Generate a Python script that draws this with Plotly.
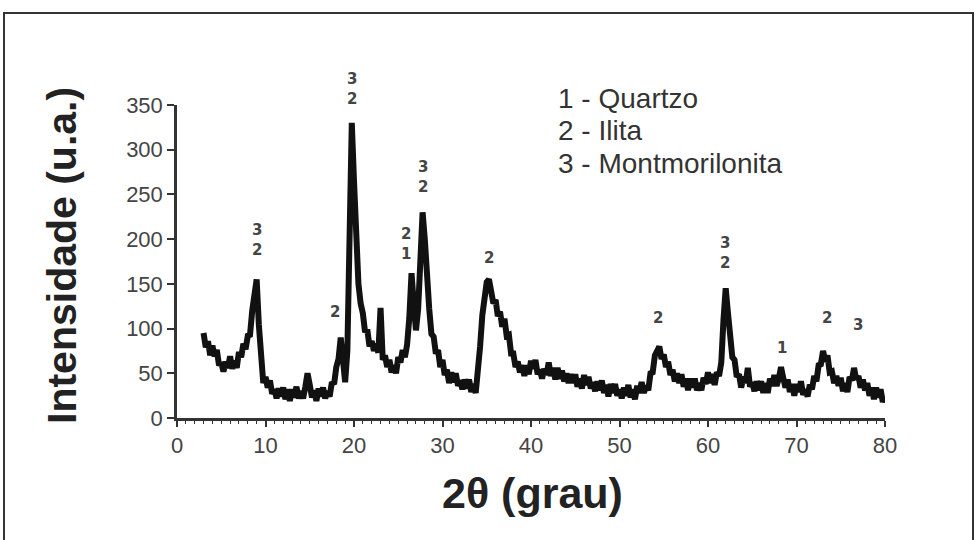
import plotly.graph_objects as go

# ---- Data ----
two_theta_start = 3.0
two_theta_step = 0.25

intensity_03_08 = [95, 79, 86, 70, 81, 69, 76, 59, 62, 52, 63, 56, 69, 55, 64, 56, 74, 68, 83, 77]
intensity_08_13 = [92, 93, 120, 136, 155, 104, 66, 39, 46, 34, 42, 27, 32, 22, 33, 24, 34, 21, 32, 19]
intensity_13_18 = [32, 23, 35, 22, 30, 22, 35, 50, 37, 23, 31, 19, 33, 24, 34, 22, 30, 24, 40, 38]
intensity_18_23 = [57, 66, 90, 55, 40, 75, 200, 330, 265, 205, 150, 128, 117, 96, 99, 80, 86, 75, 83, 73]
intensity_23_28 = [123, 65, 70, 57, 65, 51, 59, 50, 68, 62, 76, 68, 82, 112, 162, 128, 98, 122, 182, 230]
intensity_28_33 = [200, 152, 122, 94, 91, 72, 76, 57, 65, 48, 54, 39, 51, 40, 50, 36, 42, 32, 43, 33]
intensity_33_38 = [43, 29, 38, 28, 48, 80, 115, 140, 152, 155, 138, 128, 132, 114, 119, 102, 111, 92, 93, 72]
intensity_38_43 = [72, 57, 63, 51, 59, 47, 59, 49, 64, 55, 65, 49, 54, 44, 55, 48, 62, 47, 56, 43]
intensity_43_48 = [56, 44, 53, 41, 50, 39, 49, 39, 49, 35, 44, 33, 48, 37, 46, 33, 40, 30, 41, 31]
intensity_48_53 = [42, 28, 37, 24, 38, 28, 38, 25, 32, 22, 34, 25, 37, 23, 32, 21, 36, 28, 40, 28]
intensity_53_58 = [36, 31, 50, 51, 70, 76, 80, 66, 71, 57, 63, 48, 54, 41, 50, 39, 49, 35, 44, 31]
intensity_58_63 = [44, 34, 44, 31, 39, 31, 45, 38, 51, 39, 49, 37, 51, 47, 62, 110, 145, 118, 85, 68]
intensity_63_68 = [65, 46, 49, 34, 46, 39, 56, 35, 40, 30, 41, 31, 41, 28, 39, 28, 44, 36, 48, 36]
intensity_68_73 = [44, 57, 45, 34, 43, 29, 38, 25, 38, 29, 41, 26, 32, 24, 37, 32, 47, 41, 59, 60]
intensity_73_78 = [75, 63, 70, 51, 52, 39, 47, 36, 45, 30, 39, 29, 46, 42, 56, 43, 47, 34, 43, 31]
intensity_78_80 = [39, 25, 34, 21, 34, 23, 32, 18, 24]

intensity = (intensity_03_08 + intensity_08_13 + intensity_13_18 + intensity_18_23
             + intensity_23_28 + intensity_28_33 + intensity_33_38 + intensity_38_43
             + intensity_43_48 + intensity_48_53 + intensity_53_58 + intensity_58_63
             + intensity_63_68 + intensity_68_73 + intensity_73_78 + intensity_78_80)
two_theta = [two_theta_start + two_theta_step * i for i in range(len(intensity))]

# Peak phase labels: (2theta, y of label centre, text)
peak_label_x = [9.0, 17.9, 19.8, 25.9, 27.8, 35.3, 54.4, 61.9, 68.4, 73.4, 76.9]
peak_label_y = [199, 118, 368, 195, 269, 179, 112, 184, 78, 112, 104]
peak_label_text = ["3<br>2", "2", "3<br>2", "2<br>1", "3<br>2", "2", "2", "3<br>2", "1", "2", "3"]

legend_lines = ["1 - Quartzo", "2 - Ilita", "3 - Montmorilonita"]

x_ticks = [0, 10, 20, 30, 40, 50, 60, 70, 80]
y_ticks = [0, 50, 100, 150, 200, 250, 300, 350]

x_title = "2θ (grau)"
y_title = "Intensidade (u.a.)"

# ---- Figure ----
L, R, T, B = 177, 885, 105, 418   # plot-area pixel box
W, H = R - L, B - T

def px(xp):
    return (xp - L) / W

def py(yp):
    return (B - yp) / H

fig = go.Figure()
fig.add_trace(go.Scatter(
    x=two_theta, y=intensity, mode="lines",
    line=dict(color="#111111", width=6),
    showlegend=False, hoverinfo="skip"))

for x, y, t in zip(peak_label_x, peak_label_y, peak_label_text):
    fig.add_annotation(x=x, xref="x", y=y / 350.0, yref="paper",
                       text="<b>" + t + "</b>", showarrow=False,
                       font=dict(family="DejaVu Sans", size=15, color="#444444"),
                       xanchor="center", yanchor="middle")

legend_y_px = [99, 130, 163]
for txt, yp in zip(legend_lines, legend_y_px):
    fig.add_annotation(xref="paper", yref="paper", x=px(556), y=py(yp),
                       text=txt, showarrow=False, xanchor="left", yanchor="middle",
                       font=dict(family="Liberation Sans", size=28, color="#333333"))

# axis titles
fig.add_annotation(xref="paper", yref="paper", x=px(532), y=py(493),
                   text="<b>" + x_title + "</b>", showarrow=False,
                   xanchor="center", yanchor="middle",
                   font=dict(family="Liberation Sans", size=43, color="#222222"))
fig.add_annotation(xref="paper", yref="paper", x=px(62), y=py(256),
                   text="<b>" + y_title + "</b>", showarrow=False, textangle=-90,
                   xanchor="center", yanchor="middle",
                   font=dict(family="Liberation Sans", size=41, color="#222222"))

# outer frame
fig.add_shape(type="rect", xref="paper", yref="paper",
              x0=px(4), x1=px(973), y0=py(560), y1=py(13),
              line=dict(color="#333333", width=2), fillcolor="rgba(0,0,0,0)")

axis_font = dict(family="Liberation Sans", size=22, color="#444444")
fig.update_xaxes(range=[0, 80], tickvals=x_ticks, ticks="outside", ticklen=6,
                 tickwidth=2, tickcolor="#333333",
                 showline=True, linecolor="#333333", linewidth=2.5,
                 showgrid=False, zeroline=False, tickfont=axis_font,
                 minor=dict(dtick=1, ticks="outside", ticklen=3, tickcolor="#333333", tickwidth=1))
fig.update_yaxes(range=[0, 350], tickvals=y_ticks, ticks="outside", ticklen=7,
                 tickwidth=2, tickcolor="#333333",
                 showline=True, linecolor="#333333", linewidth=2.5,
                 showgrid=False, zeroline=False, tickfont=axis_font)

fig.update_layout(width=977, height=540,
                  margin=dict(l=L, r=977 - R, t=T, b=540 - B),
                  paper_bgcolor="white", plot_bgcolor="white")

fig.write_html("out.html")
